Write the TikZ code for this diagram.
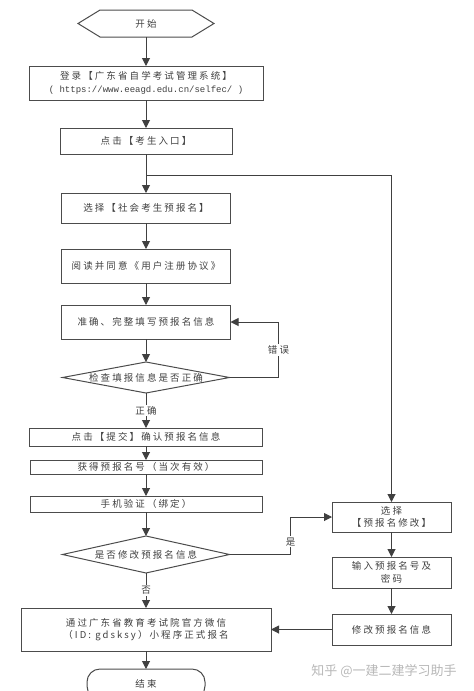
\documentclass[tikz,border=0pt]{standalone}
\usepackage{fontspec}
\newfontfamily\cjk[LetterSpace=22]{Noto Sans CJK SC}
\newfontfamily\cjkplain{Noto Sans CJK SC}
\newfontfamily\urlfont{Liberation Mono}
\usetikzlibrary{positioning,shapes.geometric,shapes.symbols,arrows.meta}

\begin{document}
\begin{tikzpicture}[x=1pt,y=-1pt,
		every node/.style={font=\cjk\fontsize{9.5}{12.5}\selectfont,text=black!75},
		box/.style={draw=black!70,line width=1pt,fill=white,align=center,inner sep=0pt,outer sep=0pt,minimum width=#1},
		decide/.style={diamond,draw=black!70,line width=1pt,inner sep=0pt,outer sep=0pt,minimum width=167pt,aspect=5,label=center:{#1}},
		arr/.style={draw=black!75,line width=1pt,-{Triangle[length=8pt,width=8pt]}},
		lbl/.style={fill=white,inner sep=1.5pt}]
		\useasboundingbox (0,0) rectangle (474,691);
		\clip (0,0) rectangle (474,691);
		
		\node[signal,signal to=west and east,signal pointer angle=63,draw=black!70,line width=1pt,minimum width=136pt,minimum height=27pt,inner sep=0pt,outer sep=0pt] (start) at (146,23.5) {开始};
		\node[box=234pt,minimum height=34pt,below=29pt of start] (login) {登录【广东省自学考试管理系统】\\{\urlfont\fontsize{9}{12}\selectfont( https://www.eeagd.edu.cn/selfec/ )}};
		\node[box=172pt,minimum height=26pt,below=28pt of login] (entry) {点击【考生入口】};
		\node[box=169pt,minimum height=30pt,below=39pt of entry] (choose) {选择【社会考生预报名】};
		\node[box=169pt,minimum height=34pt,below=26pt of choose] (agree) {阅读并同意《用户注册协议》};
		\node[box=169pt,minimum height=34pt,below=22pt of agree] (fill) {准确、完整填写预报名信息};
		\node[decide=检查填报信息是否正确,minimum height=31pt,below=23pt of fill] (check) {};
		\node[box=233pt,minimum height=18pt,below=35pt of check] (submit) {点击【提交】确认预报名信息};
		\node[box=232pt,minimum height=14pt,below=14pt of submit] (gain) {获得预报名号（当次有效）};
		\node[box=232pt,minimum height=16pt,below=22pt of gain] (phone) {手机验证（绑定）};
		\node[decide=是否修改预报名信息,minimum height=37pt,below=24pt of phone] (modify) {};
		\node[box=250pt,minimum height=43pt,below=35pt of modify] (final) {通过广东省教育考试院官方微信\\（ID: gdsksy）小程序正式报名};
		\node[box=118pt,minimum height=30pt,rounded corners=13pt,below=18pt of final] (finish) {结束};
		
		\node[box=119pt,minimum height=30pt] (rbox1) at (391.5,517) {选择\\【预报名修改】};
		\node[box=119pt,minimum height=31pt,below=25pt of rbox1] (rbox2) {输入预报名号及\\密码};
		\node[box=119pt,minimum height=31pt,below=26pt of rbox2] (rbox3) {修改预报名信息};
		
		\coordinate (split) at (146,175);
		
		\draw[arr] (start.south) -- (login.north);
		\draw[arr] (login.south) -- (entry.north);
		\draw[arr] (entry.south) -- (choose.north);
		\draw[arr] (split) -| (rbox1.north);
		\draw[arr] (choose.south) -- (agree.north);
		\draw[arr] (agree.south) -- (fill.north);
		\draw[arr] (fill.south) -- (check.north);
		\draw[arr] (check.east) -- ++(49,0) |- (fill.east) node[lbl,pos=0.25] {错误};
		\draw[arr] (check.south) -- node[lbl] {正确} (submit.north);
		\draw[arr] (submit.south) -- (gain.north);
		\draw[arr] (gain.south) -- (phone.north);
		\draw[arr] (phone.south) -- (modify.north);
		\draw[arr] (modify.east) -- ++(61,0) |- (rbox1.west) node[lbl,pos=0.17] {是};
		\draw[arr] (modify.south) -- node[lbl] {否} (final.north);
		\draw[arr] (rbox1.south) -- (rbox2.north);
		\draw[arr] (rbox2.south) -- (rbox3.north);
		\draw[arr] (rbox3.west) -- (rbox3.west -| final.east);
		\draw[arr] (final.south) -- (finish.north);
		
		\node[font=\cjkplain\fontsize{13}{15}\selectfont,text=black!28] (mark) at (384,671) {知乎 @一建二建学习助手};
	\end{tikzpicture}
\end{document}
